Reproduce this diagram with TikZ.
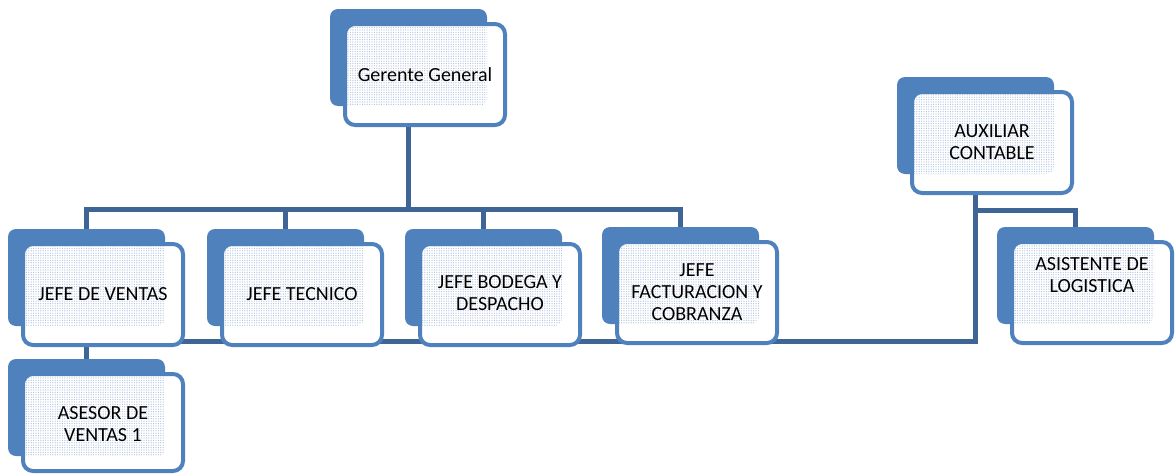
\documentclass[tikz,border=0pt]{standalone}
\usepackage{fontspec}
\setmainfont{Carlito}
\usetikzlibrary{patterns.meta}
\pgfdeclarelayer{background}
\pgfsetlayers{background,main}
\definecolor{boxblue}{HTML}{4F81BD}
\definecolor{connblue}{HTML}{3E6596}
\definecolor{dotblue}{HTML}{A9BFDD}
\tikzset{
  shadowbox/.style={rectangle, fill=boxblue, rounded corners=8pt, minimum width=157pt,
    minimum height=97pt, inner sep=0pt, outer sep=0pt},
  frontline/.style={draw=boxblue, line width=4pt, rounded corners=10pt},
  dotfill/.style={pattern={Dots[radius=0.6pt,distance=2.4pt]}, pattern color=dotblue, rounded corners=10pt},
  boxtext/.style={rectangle, inner sep=0pt, outer sep=0pt, align=center,
    font=\fontsize{20}{22}\selectfont, text=black},
  conn/.style={draw=connblue, line width=5pt, line join=miter},
}
% #1 name, #2 shadow left, #3 shadow top, #4 front height, #5 text y offset, #6 text
\newcommand\orgbox[6]{%
  \node[shadowbox] (#1s) at ({#2+78.5},{#3+48.5}) {};
  \fill[white, rounded corners=10pt] ({#2+15},{#3+15}) rectangle ({#2+175},{#3+15+#4});
  \begin{scope}
    \clip[rounded corners=8pt] (#2,#3) rectangle ({#2+157},{#3+97});
    \fill[dotfill] ({#2+15},{#3+15}) rectangle ({#2+175},{#3+15+#4});
  \end{scope}
  \draw[frontline] ({#2+15},{#3+15}) rectangle ({#2+175},{#3+15+#4});
  \node[boxtext, minimum width=160pt, minimum height=#4pt] (#1) at ({#2+95},{#3+15+#4/2+#5}) {#6};
}
\begin{document}
\begin{tikzpicture}[x=1pt,y=-1pt]
\useasboundingbox (0,0) rectangle (1176,474);
\orgbox{gg}{330}{9}{101}{0}{Gerente General}
\orgbox{jv}{8}{229}{101}{0}{JEFE DE VENTAS}
\orgbox{jt}{207}{229}{101}{0}{JEFE TECNICO}
\orgbox{jb}{405}{229}{101}{-1}{JEFE BODEGA Y\\DESPACHO}
\orgbox{jf}{602}{227}{101}{0}{JEFE\\FACTURACION Y\\COBRANZA}
\orgbox{ac}{897}{77}{101}{0}{AUXILIAR\\CONTABLE}
\orgbox{al}{997}{227}{101}{-17}{ASISTENTE DE\\LOGISTICA}
\orgbox{av}{8}{359}{97}{2}{ASESOR DE\\VENTAS 1}
\coordinate (hb) at (0,209.5);
\coordinate (ab) at (0,210.5);
\coordinate (bl) at (86.5,341);
\begin{pgfonlayer}{background}
  \draw[conn] (ggs.center) -- (ggs.center |- hb);
  \draw[conn] (jvs.center) -- (jvs.center |- hb) -- (jfs.center |- hb) -- (jfs.center);
  \draw[conn] (jts.center |- hb) -- (jts.center);
  \draw[conn] (jbs.center |- hb) -- (jbs.center);
  \draw[conn] (jvs.center) -- (avs.center);
  \draw[conn] (acs.center) -- (acs.center |- bl) -- (bl);
  \draw[conn] (acs.center |- ab) -- (als.center |- ab) -- (als.center);
\end{pgfonlayer}
\end{tikzpicture}
\end{document}
